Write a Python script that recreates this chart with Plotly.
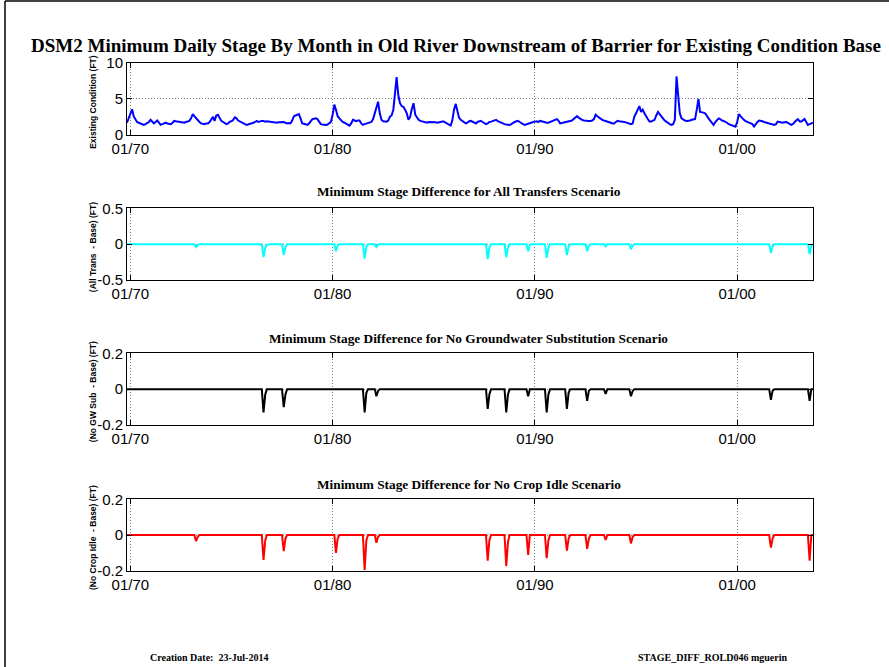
import plotly.graph_objects as go
import pandas as pd

# ---------------- data ----------------
# Existing condition base: monthly minimum stage (ft), Nov 1969 .. Oct 2003
base_by_year = {
    1969: [1.7, 2.3],
    1970: [3.0, 3.56, 2.6, 2.1, 1.8, 1.7, 1.6, 1.5, 1.4, 1.5, 1.6, 1.8],
    1971: [2.1, 1.9, 1.6, 1.8, 2.0, 1.7, 1.4, 1.5, 1.6, 1.7, 1.6, 1.5],
    1972: [1.5, 1.7, 1.95, 1.9, 1.85, 1.8, 1.7, 1.7, 1.7, 1.8, 1.9, 1.95],
    1973: [2.3, 2.9, 2.6, 2.3, 2.1, 1.8, 1.6, 1.5, 1.5, 1.6, 1.6, 1.8],
    1974: [2.2, 2.5, 1.95, 2.7, 2.8, 2.3, 1.95, 1.8, 1.6, 1.5, 1.6, 1.85],
    1975: [1.9, 2.1, 2.45, 2.3, 2.0, 1.85, 1.8, 1.6, 1.5, 1.4, 1.45, 1.5],
    1976: [1.6, 1.7, 1.8, 1.95, 1.8, 1.9, 1.95, 1.95, 1.85, 1.9, 1.85, 1.85],
    1977: [1.85, 1.8, 1.75, 1.7, 1.75, 1.8, 1.85, 1.8, 1.7, 1.6, 1.65, 1.6],
    1978: [2.0, 2.6, 2.7, 2.8, 2.9, 2.3, 1.6, 1.55, 1.5, 1.4, 1.6, 1.9],
    1979: [2.2, 2.25, 2.3, 2.2, 1.8, 1.5, 1.45, 1.4, 1.4, 1.45, 1.6, 1.8],
    1980: [2.8, 4.2, 3.5, 2.6, 2.3, 2.0, 1.8, 1.7, 1.6, 1.4, 1.3, 1.6],
    1981: [2.1, 2.0, 1.9, 2.0, 2.0, 1.6, 1.4, 1.5, 1.6, 1.7, 1.7, 1.8],
    1982: [2.2, 3.0, 3.8, 4.6, 3.0, 2.1, 1.9, 1.85, 1.85, 2.0, 2.55, 2.7],
    1983: [3.5, 5.8, 8.0, 5.5, 4.4, 4.0, 3.9, 3.5, 3.0, 2.1, 2.5, 3.6],
    1984: [4.4, 2.8, 2.4, 2.1, 1.95, 1.9, 1.8, 1.7, 1.7, 1.8, 1.8, 1.85],
    1985: [1.8, 1.75, 1.7, 1.8, 1.8, 1.85, 1.85, 1.7, 1.6, 1.5, 1.3, 2.0],
    1986: [3.5, 4.3, 3.3, 2.4, 2.1, 1.9, 1.8, 1.6, 1.7, 1.9, 1.95, 1.8],
    1987: [1.7, 1.6, 1.8, 1.9, 1.95, 1.8, 1.6, 1.5, 1.6, 1.8, 1.85, 1.9],
    1988: [2.0, 2.1, 1.9, 1.8, 1.6, 1.5, 1.5, 1.45, 1.4, 1.4, 1.5, 1.7],
    1989: [1.8, 1.9, 1.95, 1.8, 1.6, 1.5, 1.4, 1.5, 1.6, 1.7, 1.75, 1.8],
    1990: [1.85, 1.9, 1.8, 1.95, 1.9, 1.8, 1.75, 1.7, 1.7, 1.8, 1.9, 2.0],
    1991: [2.1, 2.2, 2.0, 1.6, 1.65, 1.7, 1.7, 1.75, 1.8, 1.9, 2.0, 2.2],
    1992: [2.4, 2.6, 2.4, 2.2, 2.1, 2.0, 1.95, 1.9, 1.95, 1.95, 2.0, 2.2],
    1993: [2.8, 2.6, 2.4, 2.2, 2.1, 2.0, 1.95, 1.9, 1.8, 1.7, 1.6, 1.6],
    1994: [1.8, 1.95, 1.9, 1.9, 1.85, 1.8, 1.75, 1.7, 1.6, 1.5, 1.6, 2.55],
    1995: [3.0, 3.5, 4.0, 3.2, 3.5, 3.0, 2.55, 2.2, 1.85, 1.85, 2.0, 2.1],
    1996: [2.7, 3.2, 2.9, 2.5, 2.3, 2.0, 1.8, 1.6, 1.5, 1.4, 1.5, 2.1],
    1997: [8.1, 5.3, 3.0, 2.3, 2.1, 2.0, 1.95, 1.95, 2.0, 2.1, 2.15, 2.2],
    1998: [3.5, 5.0, 3.2, 3.2, 3.1, 3.0, 2.6, 2.3, 2.0, 1.7, 1.4, 1.8],
    1999: [2.1, 2.3, 2.2, 2.0, 1.95, 1.85, 1.7, 1.5, 1.4, 1.3, 1.2, 1.16],
    2000: [1.8, 2.9, 2.6, 2.3, 2.1, 1.9, 1.8, 1.75, 1.7, 1.5, 1.16, 1.5],
    2001: [1.8, 2.0, 2.0, 1.9, 1.8, 1.75, 1.7, 1.65, 1.6, 1.5, 1.4, 1.5],
    2002: [1.85, 1.8, 1.75, 1.7, 1.75, 1.8, 1.7, 1.55, 1.4, 1.5, 1.8, 2.0],
    2003: [2.2, 1.9, 1.85, 2.0, 2.2, 1.8, 1.4, 1.5, 1.6, 1.7],
}

# Stage differences (ft); months not listed are 0
all_trans_months = ["1973-04", "1973-05", "1976-08", "1976-09", "1976-10", "1977-08", "1977-09",
                    "1980-03", "1980-04", "1981-08", "1981-09", "1982-03", "1982-04",
                    "1987-09", "1987-10", "1988-08", "1988-09", "1989-09", "1989-10",
                    "1990-08", "1990-09", "1991-08", "1991-09", "1992-08", "1992-09",
                    "1993-07", "1994-10", "1994-11", "2001-09", "2001-10", "2003-08", "2003-09"]
all_trans_values = [-0.04, -0.01, -0.18, -0.05, -0.01, -0.15, -0.04,
                    -0.10, -0.02, -0.20, -0.03, -0.04, -0.01,
                    -0.21, -0.05, -0.18, -0.05, -0.10, -0.01,
                    -0.19, -0.05, -0.15, -0.04, -0.10, -0.02,
                    -0.03, -0.07, -0.02, -0.12, -0.03, -0.14, -0.02]

no_gw_months = ["1976-08", "1976-09", "1977-08", "1977-09", "1981-08", "1981-09",
                "1982-03", "1982-04", "1987-09", "1987-10", "1988-08", "1988-09",
                "1989-09", "1990-08", "1990-09", "1991-08", "1991-09", "1992-08", "1992-09",
                "1993-07", "1994-10", "1994-11", "2001-09", "2001-10", "2003-08"]
no_gw_values = [-0.13, -0.03, -0.10, -0.03, -0.13, -0.02,
                -0.04, -0.01, -0.11, -0.03, -0.13, -0.03,
                -0.04, -0.13, -0.03, -0.11, -0.02, -0.065, -0.01,
                -0.026, -0.04, -0.01, -0.06, -0.01, -0.065]

no_crop_months = ["1973-04", "1973-05", "1976-08", "1976-09", "1977-08", "1977-09",
                  "1980-03", "1980-04", "1981-08", "1981-09", "1982-03", "1982-04",
                  "1987-09", "1987-10", "1988-08", "1988-09", "1989-09",
                  "1990-08", "1990-09", "1991-08", "1991-09", "1992-08", "1992-09",
                  "1993-07", "1994-10", "1994-11", "2001-09", "2001-10", "2003-08"]
no_crop_values = [-0.034, -0.01, -0.14, -0.03, -0.09, -0.02,
                  -0.10, -0.02, -0.196, -0.03, -0.043, -0.01,
                  -0.144, -0.03, -0.174, -0.04, -0.112,
                  -0.13, -0.03, -0.088, -0.02, -0.078, -0.02,
                  -0.028, -0.047, -0.01, -0.071, -0.02, -0.144]

x_tick_dates = ["1970-01-01", "1980-01-01", "1990-01-01", "2000-01-01"]
x_tick_labels = ["01/70", "01/80", "01/90", "01/00"]

panel_titles = [
    "Minimum Stage Difference for All Transfers Scenario",
    "Minimum Stage Difference for No Groundwater Substitution Scenario",
    "Minimum Stage Difference for No Crop Idle Scenario",
]
y_titles = ["Existing Condition (FT)", "(All Trans\u00a0 - Base) (FT)",
            "(No GW Sub\u00a0 - Base) (FT)", "(No Crop Idle\u00a0 - Base) (FT)"]
y_ticks = [[0, 5, 10], [-0.5, 0, 0.5], [-0.2, 0, 0.2], [-0.2, 0, 0.2]]
y_ticktext = [["0", "5", "10"], ["-0.5", "0", "0.5"], ["-0.2", "0", "0.2"], ["-0.2", "0", "0.2"]]
main_title = "DSM2 Minimum Daily Stage By Month in Old River Downstream of Barrier for Existing Condition Base"

# ---------------- build ----------------
months = []
base = []
for yr, vals in base_by_year.items():
    start_m = 11 if yr == 1969 else 1
    for i, v in enumerate(vals):
        months.append(f"{yr}-{start_m + i:02d}")
        base.append(v)
dates = pd.to_datetime([m + "-01" for m in months])

def diff_series(mlist, vlist):
    d = dict(zip(mlist, vlist))
    return [d.get(m, 0.0) for m in months]

series = [
    (base, "#0000FF"),
    (diff_series(all_trans_months, all_trans_values), "#00FFFF"),
    (diff_series(no_gw_months, no_gw_values), "#000000"),
    (diff_series(no_crop_months, no_crop_values), "#FF0000"),
]

W, H = 889, 667
def py(px):
    return 1 - px / H

x_dom = [127 / W, 813 / W]
panels_px = [(62.7, 135.0), (208.3, 280.0), (353.3, 425.0), (499.3, 570.7)]

fig = go.Figure()
for i, (vals, col) in enumerate(series):
    k = "" if i == 0 else str(i + 1)
    fig.add_trace(go.Scatter(x=dates, y=vals, mode="lines",
                             line=dict(color=col, width=2),
                             xaxis="x" + k, yaxis="y" + k, showlegend=False))

layout = dict(
    width=W, height=H, autosize=False,
    margin=dict(l=0, r=0, t=0, b=0, pad=0, autoexpand=False),
    paper_bgcolor="white", plot_bgcolor="white", showlegend=False,
)
axis_font = dict(family="Liberation Sans, Arial", size=15, color="black")
for i, (top, bot) in enumerate(panels_px):
    k = "" if i == 0 else str(i + 1)
    layout["xaxis" + k] = dict(
        domain=x_dom, anchor="y" + k, type="date", automargin=False,
        range=["1969-11-01", "2003-10-01"],
        tickvals=x_tick_dates, ticktext=x_tick_labels,
        ticks="inside", ticklen=5, tickcolor="black",
        showline=True, linecolor="black", linewidth=1, mirror="ticks",
        showgrid=True, gridcolor="#808080", griddash="1px,2px", gridwidth=1,
        zeroline=False, tickfont=axis_font,
    )
    lo, hi = y_ticks[i][0], y_ticks[i][-1]
    layout["yaxis" + k] = dict(
        domain=[py(bot), py(top)], anchor="x" + k, automargin=False,
        range=[lo, hi], tickvals=y_ticks[i], ticktext=y_ticktext[i],
        ticks="inside", ticklen=5, tickcolor="black",
        showline=True, linecolor="black", linewidth=1, mirror="ticks",
        showgrid=True, gridcolor="#808080", griddash="1px,2px", gridwidth=1,
        zeroline=False, tickfont=axis_font,
    )
fig.update_layout(**layout)

ann = []
ann.append(dict(text="<b>" + main_title + "</b>", x=456 / W, y=py(45), xref="paper", yref="paper",
                showarrow=False, xanchor="center", yanchor="middle",
                font=dict(family="Liberation Serif, Times New Roman", size=19, color="black")))
for t, yc in zip(panel_titles, [192, 338, 484]):
    ann.append(dict(text="<b>" + t + "</b>", x=469 / W, y=py(yc), xref="paper", yref="paper",
                    showarrow=False, xanchor="center", yanchor="middle",
                    font=dict(family="Liberation Serif, Times New Roman", size=13.3, color="black")))
for t, (top, bot) in zip(y_titles, panels_px):
    ann.append(dict(text="<b>" + t + "</b>", x=93 / W, y=py((top + bot) / 2 + 3), xref="paper", yref="paper",
                    showarrow=False, xanchor="center", yanchor="middle", textangle=-90,
                    font=dict(family="Liberation Sans, Arial", size=8.5, color="black")))
ann.append(dict(text="<b>Creation Date:  23-Jul-2014</b>", x=148 / W, y=py(657), xref="paper", yref="paper",
                showarrow=False, xanchor="left", yanchor="middle",
                font=dict(family="Liberation Serif, Times New Roman", size=10, color="black")))
ann.append(dict(text="<b>STAGE_DIFF_ROLD046 mguerin</b>", x=636 / W, y=py(657), xref="paper", yref="paper",
                showarrow=False, xanchor="left", yanchor="middle",
                font=dict(family="Liberation Serif, Times New Roman", size=10, color="black")))
fig.update_layout(annotations=ann)

fig.update_layout(shapes=[
    dict(type="line", xref="paper", yref="paper", x0=5 / W, x1=5 / W, y0=0, y1=py(1),
         line=dict(color="black", width=1.5)),
    dict(type="line", xref="paper", yref="paper", x0=5 / W, x1=1, y0=py(1), y1=py(1),
         line=dict(color="black", width=1.5)),
])

fig.write_html("out.html", config={"displayModeBar": False},
               post_script="document.body.style.margin='0px';document.body.style.overflow='hidden';")
